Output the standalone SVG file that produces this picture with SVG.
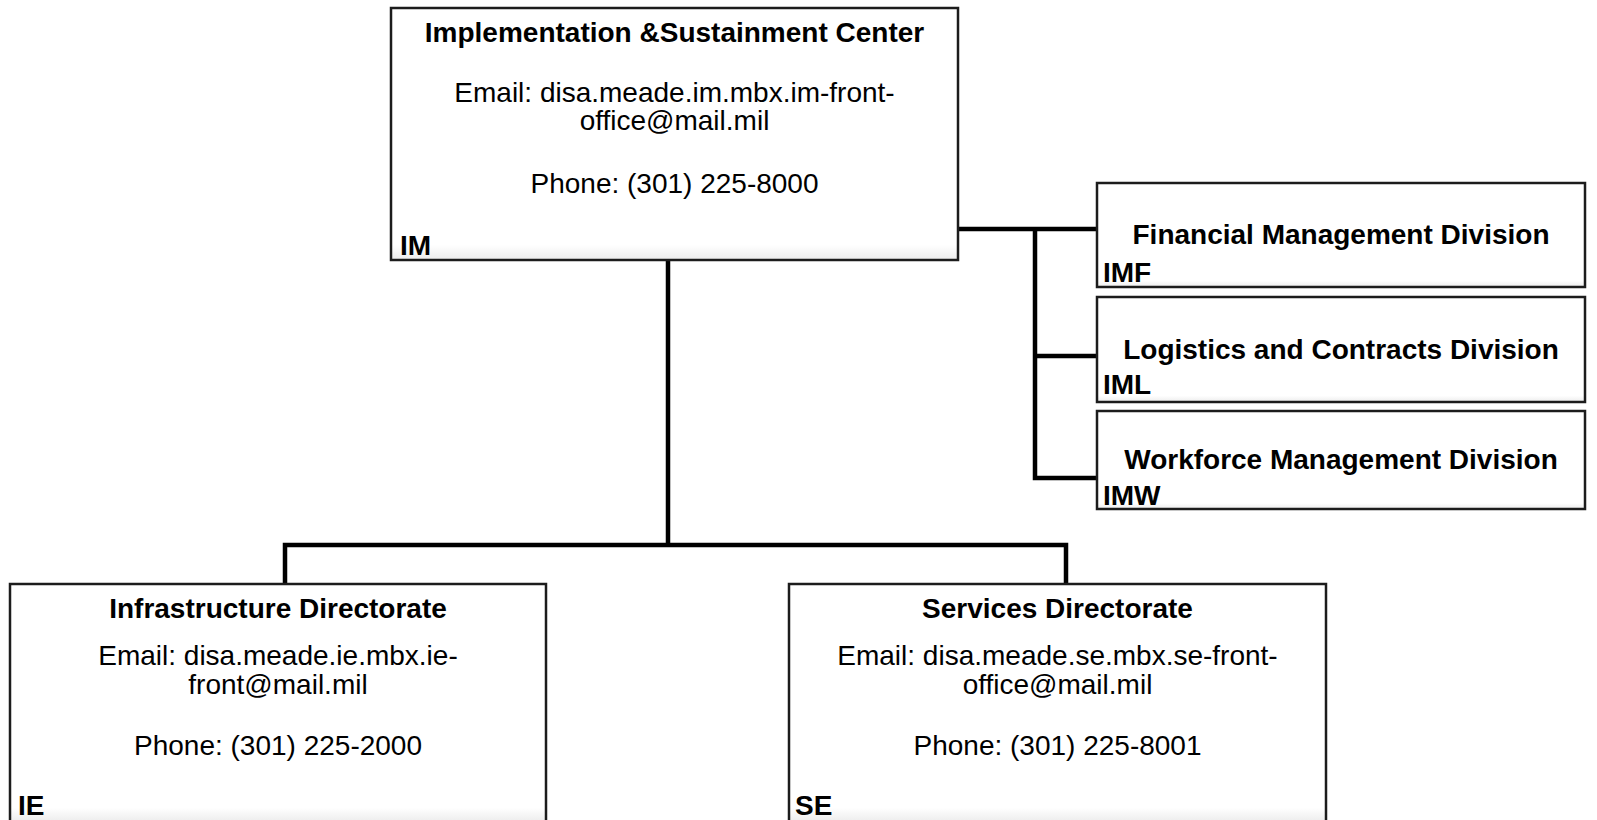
<svg xmlns="http://www.w3.org/2000/svg" width="1597" height="820" viewBox="0 0 1597 820">
<style>
.box{fill:url(#g);stroke:#1c1c1c;stroke-width:2.5}
.t{font-family:"Liberation Sans",Arial,sans-serif;font-size:28px;fill:#000}
.b{font-weight:bold}
.c{text-anchor:middle}
.ln{stroke:#000;stroke-width:4.5;fill:none;stroke-linecap:square}
</style>
<defs>
<linearGradient id="g" x1="0" y1="0" x2="0" y2="1">
<stop offset="0.94" stop-color="#fff"/>
<stop offset="1" stop-color="#ececec"/>
</linearGradient>
</defs>
<g id="connectors">
<path class="ln" d="M668,261 V545 M285,545 H1066 M285,545 V583 M1066,545 V583"/>
<path class="ln" d="M959,229 H1096 M1035,229 V478 M1035,356 H1096 M1035,478 H1096"/>
</g>
<g id="IM">
<rect class="box" x="391" y="8" width="567" height="252"/>
<text class="t b c" x="674.5" y="42">Implementation &amp;Sustainment Center</text>
<text class="t c" x="674.5" y="101.5">Email: disa.meade.im.mbx.im-front-</text>
<text class="t c" x="674.5" y="130">office@mail.mil</text>
<text class="t c" x="674.5" y="193">Phone: (301) 225-8000</text>
<text class="t b" x="400" y="255">IM</text>
</g>
<g id="IMF">
<rect class="box" x="1097" y="183" width="488" height="104"/>
<text class="t b c" x="1341" y="244">Financial Management Division</text>
<text class="t b" x="1103" y="282">IMF</text>
</g>
<g id="IML">
<rect class="box" x="1097" y="297" width="488" height="105"/>
<text class="t b c" x="1341" y="359">Logistics and Contracts Division</text>
<text class="t b" x="1103" y="394">IML</text>
</g>
<g id="IMW">
<rect class="box" x="1097" y="411" width="488" height="98"/>
<text class="t b c" x="1341" y="469">Workforce Management Division</text>
<text class="t b" x="1103" y="505">IMW</text>
</g>
<g id="IE">
<rect class="box" x="10" y="584" width="536" height="238"/>
<text class="t b c" x="278" y="618">Infrastructure Directorate</text>
<text class="t c" x="278" y="665">Email: disa.meade.ie.mbx.ie-</text>
<text class="t c" x="278" y="694">front@mail.mil</text>
<text class="t c" x="278" y="755">Phone: (301) 225-2000</text>
<text class="t b" x="18" y="815">IE</text>
</g>
<g id="SE">
<rect class="box" x="789" y="584" width="537" height="238"/>
<text class="t b c" x="1057.5" y="618">Services Directorate</text>
<text class="t c" x="1057.5" y="665">Email: disa.meade.se.mbx.se-front-</text>
<text class="t c" x="1057.5" y="694">office@mail.mil</text>
<text class="t c" x="1057.5" y="755">Phone: (301) 225-8001</text>
<text class="t b" x="795" y="815">SE</text>
</g>
</svg>
